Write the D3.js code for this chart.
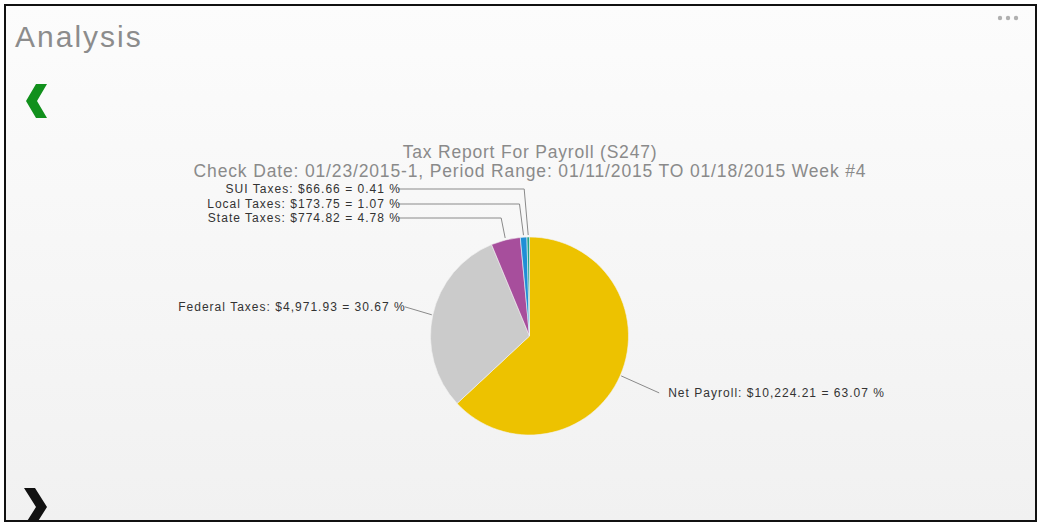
<!DOCTYPE html>
<html><head><meta charset="utf-8">
<script src="https://cdn.jsdelivr.net/npm/d3@7"></script>
<style>
html,body{margin:0;padding:0;background:#fff;}
svg{display:block;font-family:"Liberation Sans",Arial,sans-serif;}
</style></head>
<body>
<svg id="chart" width="1042" height="525"></svg>
<script>
const categories = ["Net Payroll", "Federal Taxes", "State Taxes", "Local Taxes", "SUI Taxes"];
const amounts = [10224.21, 4971.93, 774.82, 173.75, 66.66];
const percents = [63.07, 30.67, 4.78, 1.07, 0.41];
const amountLabels = ["$10,224.21", "$4,971.93", "$774.82", "$173.75", "$66.66"];
const colors = ["#edc200", "#cbcbcb", "#a74e9c", "#1f8fd6", "#23a48a"];
const titleText = "Tax Report For Payroll (S247)";
const subtitleText = "Check Date: 01/23/2015-1, Period Range: 01/11/2015 TO 01/18/2015 Week #4";

const svg = d3.select("#chart");
const W = 1042, H = 525;

// panel background
const defs = svg.append("defs");
const grad = defs.append("linearGradient").attr("id","bg").attr("x1",0).attr("y1",0).attr("x2",0).attr("y2",1);
grad.append("stop").attr("offset","0%").attr("stop-color","#fcfcfc");
grad.append("stop").attr("offset","100%").attr("stop-color","#f1f1f1");
const clip = defs.append("clipPath").attr("id","panel");
clip.append("rect").attr("x",5).attr("y",5).attr("width",1031).attr("height",516);
svg.append("rect").attr("x",0).attr("y",0).attr("width",W).attr("height",H).attr("fill","#fff");
svg.append("rect").attr("x",5).attr("y",5).attr("width",1031).attr("height",516).attr("fill","url(#bg)");

// header
svg.append("text").attr("x",15).attr("y",47).attr("font-size",30).attr("letter-spacing",2)
  .attr("fill","#8c8c8c").text("Analysis");
[1000,1008,1016].forEach(x=>svg.append("circle").attr("cx",x).attr("cy",18).attr("r",2.2).attr("fill","#b0b0b0"));

// navigation chevrons
svg.append("path").attr("d","M36,84 L26,101 L36,118 L47,118 L37,101 L47,84 Z").attr("fill","#11901c");
svg.append("g").attr("clip-path","url(#panel)").append("path")
  .attr("d","M24,488 L35,488 L47,507 L35,526 L24,526 L36,507 Z").attr("fill","#111");

// frame
svg.append("rect").attr("x",5).attr("y",5).attr("width",1031).attr("height",516)
  .attr("fill","none").attr("stroke","#111").attr("stroke-width",2);

// titles
svg.append("text").attr("x",530).attr("y",158).attr("text-anchor","middle").attr("font-size",17.5)
  .attr("letter-spacing",0.8).attr("fill","#8a8a8a").text(titleText);
svg.append("text").attr("x",530).attr("y",177).attr("text-anchor","middle").attr("font-size",17.5)
  .attr("letter-spacing",0.85).attr("fill","#8a8a8a").text(subtitleText);

// pie
const cx = 529.5, cy = 336, R = 99;
const data = categories.map((c,i)=>({name:c, value:amounts[i], pct:percents[i], amt:amountLabels[i], color:colors[i]}));
const pie = d3.pie().value(d=>d.value).sort(null);
const arcs = pie(data);
const arcGen = d3.arc().innerRadius(0).outerRadius(R);
const g = svg.append("g").attr("transform",`translate(${cx},${cy})`);
g.selectAll("path").data(arcs).join("path").attr("d",arcGen).attr("fill",d=>d.data.color)
  .attr("stroke","#f3f3f3").attr("stroke-width",0.6);

// labels
const pt = (ang, r) => [cx + r*Math.sin(ang), cy - r*Math.cos(ang)];
const labelText = d => `${d.data.name}: ${d.data.amt} = ${d.data.pct.toFixed(2)} %`;
const lines = svg.append("g").attr("fill","none").attr("stroke","#8a8a8a").attr("stroke-width",1);
const texts = svg.append("g").attr("font-size",12).attr("letter-spacing",1.02).attr("fill","#333");

// layout rows for small top slices (label baseline y)
const topRows = {"SUI Taxes":193, "Local Taxes":208, "State Taxes":222};
const leftEnd = 401;
arcs.forEach(a=>{
  const mid = (a.startAngle + a.endAngle)/2;
  const name = a.data.name;
  if (topRows[name] !== undefined) {
    const y = topRows[name];
    const p = pt(mid, R + 2);
    const bx = p[0] - 4;
    lines.append("path").attr("d",`M${leftEnd-3},${y-4} L${bx},${y-4} L${p[0]},${p[1]}`);
    texts.append("text").attr("x",leftEnd).attr("y",y).attr("text-anchor","end").text(labelText(a));
  } else {
    const p = pt(mid, R + 1);
    const right = Math.sin(mid) > 0;
    if (right) {
      const q = [p[0] + 38, p[1] + 17];
      lines.append("path").attr("d",`M${p[0]},${p[1]} L${q[0]},${q[1]}`);
      texts.append("text").attr("x",q[0]+9).attr("y",q[1]+4).attr("text-anchor","start").text(labelText(a));
    } else {
      const q = [p[0] - 27, p[1] - 8];
      lines.append("path").attr("d",`M${p[0]},${p[1]} L${q[0]},${q[1]}`);
      texts.append("text").attr("x",q[0]+1).attr("y",q[1]+4).attr("text-anchor","end").text(labelText(a));
    }
  }
});
</script>
</body></html>
